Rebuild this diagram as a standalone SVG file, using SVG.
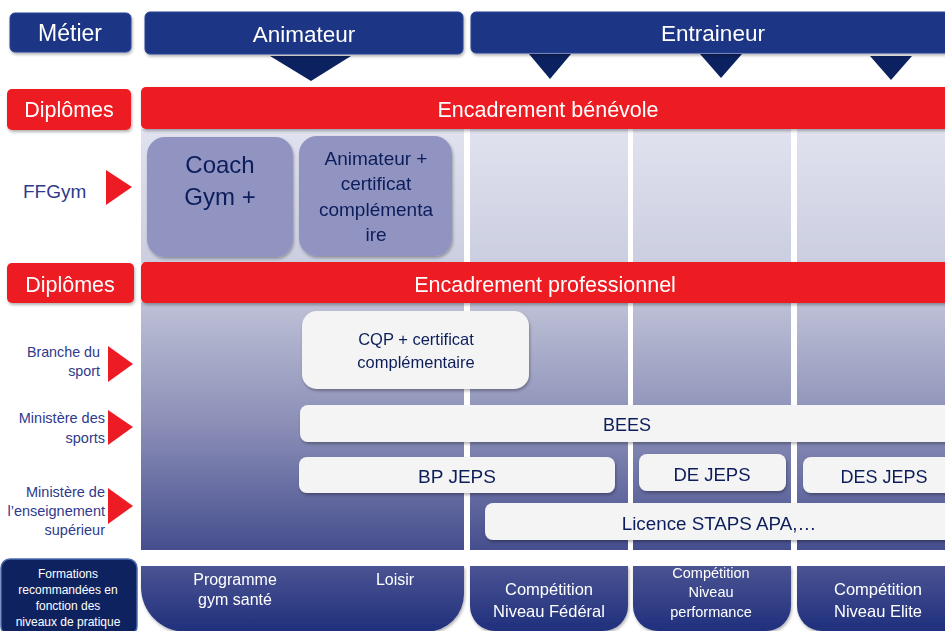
<svg xmlns="http://www.w3.org/2000/svg" width="945" height="631" viewBox="0 0 945 631">
<defs>
<linearGradient id="gTop" x1="0" y1="0" x2="0" y2="1"><stop offset="0" stop-color="#E0E2EF"/><stop offset="1" stop-color="#CBCEE0"/></linearGradient>
<linearGradient id="gBot" x1="0" y1="0" x2="0" y2="1"><stop offset="0" stop-color="#BEC1D6"/><stop offset="0.5" stop-color="#8A8EB6"/><stop offset="1" stop-color="#454E8E"/></linearGradient>
<linearGradient id="gFoot" x1="0" y1="0" x2="0" y2="1"><stop offset="0" stop-color="#4B5493"/><stop offset="1" stop-color="#1F2F7C"/></linearGradient>
<filter id="sh" x="-10%" y="-20%" width="120%" height="150%"><feDropShadow dx="1" dy="2" stdDeviation="1.5" flood-color="#000" flood-opacity="0.3"/></filter>
<style>
text{font-family:"Liberation Sans",Arial,sans-serif}
.hdr{fill:#1E3685;stroke:#2A4596;stroke-width:1}
.red{fill:#ED1C24}
.w{fill:#FFFFFF}
.c{text-anchor:middle}
.e{text-anchor:end}
.nav{fill:#0C1E5A}
.lab{fill:#2E3A8C}
.tri{fill:#0C2160}
.rtri{fill:#ED1C24}
.pill{fill:#F4F4F4}
.coach{fill:#9194C1}
</style>
</defs>

<!-- background columns -->
<g id="columns">
<rect x="141" y="129" width="323" height="134" fill="url(#gTop)"/>
<rect x="470" y="129" width="158" height="134" fill="url(#gTop)"/>
<rect x="633" y="129" width="158" height="134" fill="url(#gTop)"/>
<rect x="797" y="129" width="148" height="134" fill="url(#gTop)"/>
<rect x="141" y="302" width="323" height="248" fill="url(#gBot)"/>
<rect x="470" y="302" width="158" height="248" fill="url(#gBot)"/>
<rect x="633" y="302" width="158" height="248" fill="url(#gBot)"/>
<rect x="797" y="302" width="148" height="248" fill="url(#gBot)"/>
</g>

<!-- pointers -->
<g id="connectors">
<polygon class="tri" points="270,56 351,56 311,81"/>
<polygon class="tri" points="529,54 571,54 550,79"/>
<polygon class="tri" points="700,54 742,54 721,78"/>
<polygon class="tri" points="870,56 912,56 891,80"/>
<polygon class="rtri" points="106,170 132,187 106,205"/>
<polygon class="rtri" points="108,346 133,364 108,382"/>
<polygon class="rtri" points="108,410 133,427 108,445"/>
<polygon class="rtri" points="108,488 133,506 108,524"/>
</g>

<g id="metier" filter="url(#sh)">
<rect class="hdr" x="10" y="13" width="121" height="39" rx="5"/>
<text class="w c" x="70" y="41" font-size="23">Métier</text>
</g>
<g id="animateur" filter="url(#sh)">
<rect class="hdr" x="145" y="12" width="318" height="42" rx="5"/>
<text class="w c" x="304" y="42" font-size="22.5">Animateur</text>
</g>
<g id="entraineur" filter="url(#sh)">
<rect class="hdr" x="471" y="12" width="480" height="41" rx="5"/>
<text class="w c" x="713" y="41" font-size="22.5">Entraineur</text>
</g>

<g id="diplomes1" filter="url(#sh)">
<rect class="red" x="7" y="89" width="124" height="41" rx="5"/>
<text class="w c" x="69" y="117" font-size="21.5">Diplômes</text>
</g>
<g id="benevole" filter="url(#sh)">
<rect class="red" x="141" y="87" width="810" height="42" rx="5"/>
<text class="w c" x="548" y="117" font-size="21.5">Encadrement bénévole</text>
</g>

<g id="ffgym">
<text class="lab" x="23" y="198" font-size="19">FFGym</text>
</g>
<g id="coach" filter="url(#sh)">
<rect class="coach" x="147" y="137" width="146" height="120" rx="18"/>
<text class="nav c" x="220" y="173" font-size="24">Coach</text>
<text class="nav c" x="220" y="205" font-size="24">Gym +</text>
</g>
<g id="animcert" filter="url(#sh)">
<rect class="coach" x="299" y="136" width="153" height="120" rx="18"/>
<text class="nav c" x="376" y="165" font-size="19">Animateur +</text>
<text class="nav c" x="376" y="190" font-size="19">certificat</text>
<text class="nav c" x="376" y="216" font-size="19">complémenta</text>
<text class="nav c" x="376" y="241" font-size="19">ire</text>
</g>

<g id="diplomes2" filter="url(#sh)">
<rect class="red" x="7" y="263" width="127" height="40" rx="5"/>
<text class="w c" x="70" y="292" font-size="21.5">Diplômes</text>
</g>
<g id="professionnel" filter="url(#sh)">
<rect class="red" x="141" y="262" width="810" height="41" rx="5"/>
<text class="w c" x="545" y="292" font-size="21.5">Encadrement professionnel</text>
</g>

<g id="branche">
<text class="lab e" x="100" y="357" font-size="14.3">Branche du</text>
<text class="lab e" x="100" y="376" font-size="14.3">sport</text>
</g>
<g id="ministere-sports">
<text class="lab e" x="105" y="423" font-size="14.5">Ministère des</text>
<text class="lab e" x="105" y="443" font-size="14.5">sports</text>
</g>
<g id="ministere-sup">
<text class="lab e" x="105" y="497" font-size="14.5">Ministère de</text>
<text class="lab e" x="105" y="516" font-size="14.5">l’enseignement</text>
<text class="lab e" x="105" y="535" font-size="14.5">supérieur</text>
</g>

<g id="cqp" filter="url(#sh)">
<rect class="pill" x="302" y="311" width="227" height="78" rx="15"/>
<text class="nav c" x="416" y="345" font-size="16.5">CQP + certificat</text>
<text class="nav c" x="416" y="368" font-size="16.5">complémentaire</text>
</g>
<g id="bees" filter="url(#sh)">
<rect class="pill" x="300" y="405" width="660" height="37" rx="8"/>
<text class="nav c" x="627" y="431" font-size="18">BEES</text>
</g>
<g id="bpjeps" filter="url(#sh)">
<rect class="pill" x="299" y="457" width="316" height="36" rx="8"/>
<text class="nav c" x="457" y="483" font-size="19">BP JEPS</text>
</g>
<g id="dejeps" filter="url(#sh)">
<rect class="pill" x="639" y="454" width="147" height="37" rx="8"/>
<text class="nav c" x="712" y="481" font-size="18.5">DE JEPS</text>
</g>
<g id="desjeps" filter="url(#sh)">
<rect class="pill" x="803" y="457" width="160" height="36" rx="8"/>
<text class="nav c" x="884" y="483" font-size="18">DES JEPS</text>
</g>
<g id="licence" filter="url(#sh)">
<rect class="pill" x="485" y="503" width="475" height="37" rx="8"/>
<text class="nav c" x="719" y="530" font-size="18.8">Licence STAPS APA,…</text>
</g>

<g id="formations">
<rect x="1" y="559" width="136" height="76" rx="9" fill="#0E2260" stroke="#4A6AAE" stroke-width="1.5"/>
<text class="w c" x="68" y="578" font-size="12">Formations</text>
<text class="w c" x="68" y="594" font-size="12">recommandées en</text>
<text class="w c" x="68" y="610" font-size="12">fonction des</text>
<text class="w c" x="68" y="626" font-size="12">niveaux de pratique</text>
</g>
<g id="loisir" filter="url(#sh)">
<path d="M141,566 H464 V594 A38,38 0 0 1 426,632 H186 A45,45 0 0 1 141,587 Z" fill="url(#gFoot)"/>
<text class="w c" x="235" y="585" font-size="16">Programme</text>
<text class="w c" x="235" y="605" font-size="16">gym santé</text>
<text class="w c" x="395" y="585" font-size="16">Loisir</text>
</g>
<g id="federal" filter="url(#sh)">
<path d="M470,566 H628 V606 A25,25 0 0 1 603,631 H495 A25,25 0 0 1 470,606 Z" fill="url(#gFoot)"/>
<text class="w c" x="549" y="595" font-size="16.5">Compétition</text>
<text class="w c" x="549" y="617" font-size="16.5">Niveau Fédéral</text>
</g>
<g id="performance" filter="url(#sh)">
<path d="M633,566 H791 V606 A25,25 0 0 1 766,631 H658 A25,25 0 0 1 633,606 Z" fill="url(#gFoot)"/>
<text class="w c" x="711" y="578" font-size="14.5">Compétition</text>
<text class="w c" x="711" y="597" font-size="14.5">Niveau</text>
<text class="w c" x="711" y="617" font-size="14.5">performance</text>
</g>
<g id="elite" filter="url(#sh)">
<path d="M797,566 H950 V631 H822 A25,25 0 0 1 797,606 Z" fill="url(#gFoot)"/>
<text class="w c" x="878" y="595" font-size="16.5">Compétition</text>
<text class="w c" x="878" y="617" font-size="16.5">Niveau Elite</text>
</g>
</svg>
